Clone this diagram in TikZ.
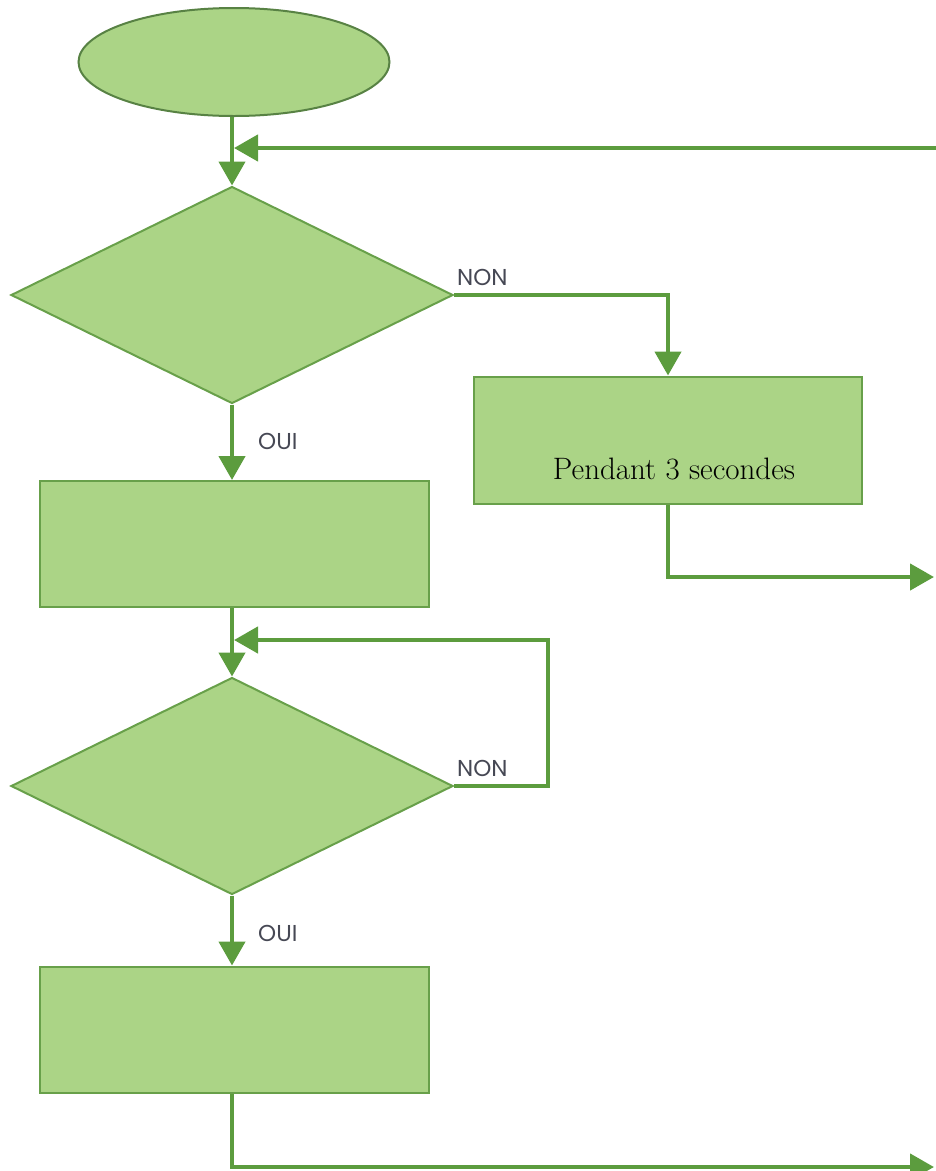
\documentclass[tikz,border=0pt]{standalone}
\usepackage{fontspec}
\newfontfamily\labelfont{Poppins}
\usetikzlibrary{shapes.geometric,arrows.meta,calc}
\definecolor{boxfill}{RGB}{171,212,134}
\definecolor{boxedge}{RGB}{104,160,74}
\definecolor{ellipseedge}{RGB}{88,130,68}
\definecolor{linecol}{RGB}{92,156,62}
\definecolor{labcol}{RGB}{70,72,84}
\tikzset{
  shapebox/.style={draw=boxedge,fill=boxfill,line width=2pt,inner sep=0pt},
  rectbox/.style={shapebox,rectangle,minimum width=389pt,minimum height=126pt},
  decision/.style={shapebox,diamond,minimum width=442pt,minimum height=217pt},
  conn/.style={draw=linecol,line width=4.5pt,-{Triangle[length=24pt,width=26pt]}},
  flowlabel/.style={font=\labelfont\fontsize{23}{26}\selectfont,text=labcol,inner sep=0pt}
}
\begin{document}
\begin{tikzpicture}[x=1pt,y=-1pt]
\useasboundingbox (0,0) rectangle (936,1171);
\node[shapebox,draw=ellipseedge,ellipse,minimum width=311pt,minimum height=108pt] (start) at (234,62) {};
\node[decision] (d1) at (232,295) {};
\node[rectbox,minimum width=388pt,minimum height=127pt] (b2) at (668,440) {};
\node[font=\fontsize{31}{35}\selectfont] (t2) at (674,469) {Pendant 3 secondes};
\node[rectbox] (b1) at (234,544) {};
\node[decision] (d2) at (232,786) {};
\node[rectbox] (b3) at (234,1029.5) {};
\node[flowlabel,anchor=west] (non1) at (457,277) {NON};
\node[flowlabel,anchor=west] (oui1) at (258,441) {OUI};
\node[flowlabel,anchor=west] (non2) at (457,768) {NON};
\node[flowlabel,anchor=west] (oui2) at (258,933) {OUI};
\coordinate (ret) at (936,148);
\coordinate (out1) at (934,577);
\coordinate (loopc) at (548,640);
\coordinate (out2) at (934,1167);
\draw[conn] (start.south -| d1.north) -- (d1.north);
\draw[conn] (ret) -- ($(ret -| d1.north)+(2,0)$);
\draw[conn] (d1.east) -| (b2.north);
\draw[conn] (d1.south) -- (b1.north -| d1.south);
\draw[conn] (b2.south) |- (out1);
\draw[conn] (b1.south -| d2.north) -- (d2.north);
\draw[conn] (d2.east) -| (loopc) -- ($(loopc -| d2.north)+(2,0)$);
\draw[conn] (d2.south) -- (b3.north -| d2.south);
\draw[conn] (b3.south -| d2.south) |- (out2);
\end{tikzpicture}
\end{document}
